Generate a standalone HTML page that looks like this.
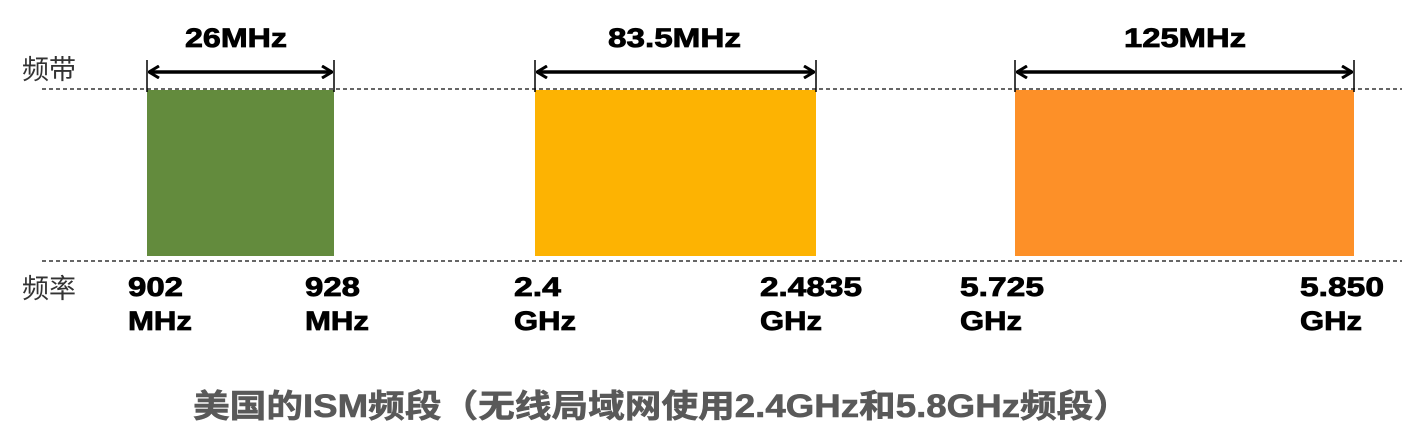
<!DOCTYPE html>
<html><head><meta charset="utf-8"><style>
html,body{margin:0;padding:0;background:#fff;}
svg{display:block;}
.b{font-family:"Liberation Sans",Arial,sans-serif;font-weight:bold;font-size:27px;fill:#000;stroke:#000;stroke-width:0.8;}
.c{font-family:"Liberation Sans","Noto Sans CJK SC",sans-serif;font-size:27px;fill:#333;}
</style></head><body>
<svg width="1413" height="428" viewBox="0 0 1413 428">
<defs>
<marker id="a" markerWidth="12" markerHeight="14" refX="11" refY="7" orient="auto-start-reverse" markerUnits="userSpaceOnUse">
<path d="M1,1 L11,7 L1,13" fill="none" stroke="#000" stroke-width="3"/>
</marker>
</defs>
<rect x="147" y="90" width="187" height="166" fill="#638b3d"/>
<rect x="535" y="90" width="281" height="166" fill="#fdb302"/>
<rect x="1015" y="90" width="339" height="166" fill="#fd9028"/>
<line x1="42" y1="89" x2="1402" y2="89" stroke="#333" stroke-width="1.5" stroke-dasharray="4,3"/>
<line x1="42" y1="261" x2="1402" y2="261" stroke="#333" stroke-width="1.5" stroke-dasharray="4,3"/>
<g stroke="#000" stroke-width="1.5">
<line x1="147" y1="60" x2="147" y2="92"/><line x1="334" y1="60" x2="334" y2="92"/>
<line x1="535" y1="60" x2="535" y2="92"/><line x1="816" y1="60" x2="816" y2="92"/>
<line x1="1015" y1="60" x2="1015" y2="92"/><line x1="1354" y1="60" x2="1354" y2="92"/>
</g>
<g stroke="#000" stroke-width="3.5" marker-start="url(#a)" marker-end="url(#a)">
<line x1="149" y1="72" x2="332" y2="72"/>
<line x1="537" y1="72" x2="814" y2="72"/>
<line x1="1017" y1="72" x2="1352" y2="72"/>
</g>
<g class="b" lengthAdjust="spacingAndGlyphs">
<text x="185" y="47" textLength="102" lengthAdjust="spacingAndGlyphs">26MHz</text>
<text x="608" y="47" textLength="133" lengthAdjust="spacingAndGlyphs">83.5MHz</text>
<text x="1124" y="47" textLength="122" lengthAdjust="spacingAndGlyphs">125MHz</text>
<text x="128" y="296" textLength="55" lengthAdjust="spacingAndGlyphs">902</text>
<text x="128" y="330" textLength="64" lengthAdjust="spacingAndGlyphs">MHz</text>
<text x="305" y="296" textLength="55" lengthAdjust="spacingAndGlyphs">928</text>
<text x="305" y="330" textLength="64" lengthAdjust="spacingAndGlyphs">MHz</text>
<text x="514" y="296" textLength="47" lengthAdjust="spacingAndGlyphs">2.4</text>
<text x="514" y="330" textLength="62" lengthAdjust="spacingAndGlyphs">GHz</text>
<text x="760" y="296" textLength="102" lengthAdjust="spacingAndGlyphs">2.4835</text>
<text x="760" y="330" textLength="62" lengthAdjust="spacingAndGlyphs">GHz</text>
<text x="960" y="296" textLength="84" lengthAdjust="spacingAndGlyphs">5.725</text>
<text x="960" y="330" textLength="62" lengthAdjust="spacingAndGlyphs">GHz</text>
<text x="1300" y="296" textLength="84" lengthAdjust="spacingAndGlyphs">5.850</text>
<text x="1300" y="330" textLength="62" lengthAdjust="spacingAndGlyphs">GHz</text>
</g>
<text class="c" x="22" y="79">频带</text>
<text class="c" x="22" y="298">频率</text>
<text x="193" y="417" textLength="937" lengthAdjust="spacingAndGlyphs" style="font-family:'Liberation Sans','Noto Sans CJK SC',sans-serif;font-weight:bold;font-size:32px;fill:#595959;stroke:#595959;stroke-width:0.6;">美国的ISM频段（无线局域网使用2.4GHz和5.8GHz频段）</text>
</svg>
</body></html>
